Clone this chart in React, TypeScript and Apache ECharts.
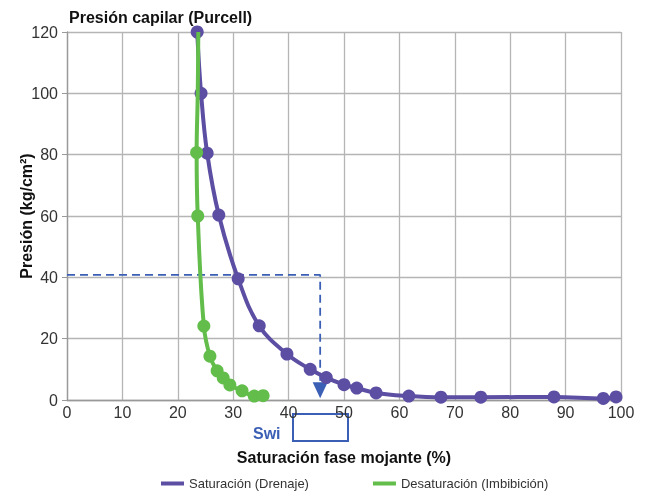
import React, { useEffect, useRef } from "react";
import * as echarts from "echarts";

const drenajeX = [23.5, 24.2, 25.3, 27.4, 30.9, 34.7, 39.7, 43.9, 46.8, 50.0, 52.3, 55.8, 61.7, 67.5, 74.7, 87.9, 96.8, 99.1];
const drenajeY = [120, 100, 80.5, 60.3, 39.5, 24.2, 15, 10, 7.3, 5.0, 3.9, 2.3, 1.3, 0.9, 0.9, 1.0, 0.5, 1.0];

const imbibX = [23.7, 23.6, 23.4, 23.6, 24.7, 25.8, 27.1, 28.2, 29.4, 31.6, 33.8, 35.4];
const imbibY = [120, 100, 80.7, 60, 24.1, 14.3, 9.5, 7.2, 4.9, 3.0, 1.3, 1.4];
const imbibHidden = [true, true, false, false, false, false, false, false, false, false, false, false];

const swiX = [0, 45.7, 45.7];
const swiY = [40.8, 40.8, 3.2];

const seriesNames = ["Saturación (Drenaje)", "Desaturación (Imbibición)"];

const PURPLE = "#5b4ea3";
const GREEN = "#62bd4a";
const BLUE = "#3b5fb5";
const FONT = "'Liberation Sans', Arial, sans-serif";

export default function App() {
  const ref = useRef<HTMLDivElement>(null);
  useEffect(() => {
    if (!ref.current) return;
    const chart = echarts.init(ref.current, null, { renderer: "svg" });
    chart.setOption({
      animation: false,
      textStyle: { fontFamily: FONT },
      grid: { left: 67, right: 27, top: 32, bottom: 94, outerBoundsMode: "none", containLabel: false },
      title: {
        text: "Presión capilar (Purcell)",
        left: 64,
        top: 4,
        textStyle: { fontSize: 16, fontWeight: "bold", color: "#111", fontFamily: FONT },
      },
      legend: {
        data: seriesNames.map((n) => ({ name: n, icon: "rect" })),
        top: 472,
        left: 156,
        itemWidth: 23,
        itemHeight: 4,
        itemGap: 64,
        textStyle: { fontSize: 13, color: "#333", fontFamily: FONT },
      },
      xAxis: {
        type: "value",
        min: 0,
        max: 100,
        interval: 10,
        name: "Saturación fase mojante (%)",
        nameLocation: "middle",
        nameGap: 49,
        nameMoveOverlap: false,
        nameTextStyle: { fontSize: 16, fontWeight: "bold", color: "#111" },
        axisLine: { lineStyle: { color: "#999", width: 1.3 } },
        axisTick: { show: false },
        axisLabel: { fontSize: 16, color: "#333", margin: 4 },
        splitLine: { lineStyle: { color: "#b5b5b5", width: 1.3 } },
      },
      yAxis: {
        type: "value",
        min: 0,
        max: 120,
        interval: 20,
        name: "Presión (kg/cm²)",
        nameLocation: "middle",
        nameGap: 33,
        nameMoveOverlap: false,
        nameTextStyle: { fontSize: 16, fontWeight: "bold", color: "#111" },
        axisLine: { show: true, lineStyle: { color: "#999", width: 1.3 } },
        axisTick: { show: true, length: 5, lineStyle: { color: "#999" } },
        axisLabel: { fontSize: 16, color: "#333", margin: 9 },
        splitLine: { lineStyle: { color: "#b5b5b5", width: 1.3 } },
      },
      series: [
        {
          name: "swi",
          type: "line",
          data: swiX.map((x, i) => ({
            value: [x, swiY[i]],
            symbol: i === swiX.length - 1 ? "triangle" : "none",
            symbolSize: [15, 16],
            symbolRotate: 180,
          })),
          lineStyle: { color: BLUE, width: 1.8, type: [8, 5] },
          itemStyle: { color: BLUE },
          z: 1,
          silent: true,
        },
        {
          name: seriesNames[0],
          type: "line",
          smooth: 0.4,
          data: drenajeX.map((x, i) => [x, drenajeY[i]]),
          symbol: "circle",
          symbolSize: 13,
          showAllSymbol: true,
          lineStyle: { color: PURPLE, width: 4 },
          itemStyle: { color: PURPLE },
          z: 2,
        },
        {
          name: seriesNames[1],
          type: "line",
          smooth: 0.4,
          data: imbibX.map((x, i) => ({
            value: [x, imbibY[i]],
            symbolSize: imbibHidden[i] ? 0 : 13,
          })),
          symbol: "circle",
          showAllSymbol: true,
          lineStyle: { color: GREEN, width: 4 },
          itemStyle: { color: GREEN },
          z: 3,
        },
      ],
      graphic: [
        {
          type: "rect",
          shape: { x: 293, y: 414, width: 55, height: 27 },
          style: { fill: "none", stroke: BLUE, lineWidth: 2 },
        },
        {
          type: "text",
          x: 253,
          y: 425,
          style: { text: "Swi", fill: BLUE, font: `bold 16px ${FONT}` },
        },
      ],
    });
    return () => chart.dispose();
  }, []);
  return <div ref={ref} style={{ position: "fixed", left: 0, top: 0, width: 648, height: 494 }} />;
}
